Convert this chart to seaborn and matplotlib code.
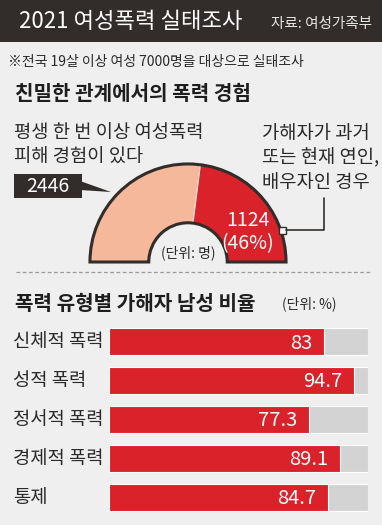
import matplotlib
matplotlib.use("Agg")
import matplotlib.pyplot as plt
import matplotlib.transforms as mtransforms
from matplotlib.patches import Rectangle, Polygon
import seaborn as sns
import pandas as pd

# data
total_victims = 2446
partner_victims = 1124
partner_share = "46%"
types = ["신체적 폭력", "성적 폭력", "정서적 폭력", "경제적 폭력", "통제"]
male_ratio = [83, 94.7, 77.3, 89.1, 84.7]

sns.set_theme(style="white")
plt.rcParams["font.family"] = ["Noto Sans CJK KR", "DejaVu Sans"]

W, H = 382, 525
bg = "#efefef"
dark = "#322d2b"
red = "#d9222a"
peach = "#f5b89a"
grey = "#d3d3d3"
txt = "#2a2a2a"

fig = plt.figure(figsize=(W / 100, H / 100), dpi=100)
fig.patch.set_facecolor(bg)

def fx(px):
    return px / W

def fy(py):
    return 1 - py / H

# half donut
axp = fig.add_axes([fx(88), fy(362), fx(200), 200 / H])
axp.set_facecolor("none")
sizes = [total_victims - partner_victims, partner_victims, total_victims]
wedges, _ = axp.pie(sizes, colors=[peach, red, "none"], startangle=180, counterclock=False,
                    wedgeprops=dict(width=0.6, edgecolor="#f3e6de", linewidth=0.8))
wedges[2].set_edgecolor("none")
outline, _ = axp.pie([total_victims, total_victims], colors=["none", "none"], startangle=180,
                     counterclock=False, wedgeprops=dict(width=0.6, edgecolor=dark, linewidth=2.2))
outline[1].set_edgecolor("none")
axp.set_xlim(-1.02, 1.02)
axp.set_ylim(-1.02, 1.02)
axp.axis("off")

# bars
axb = fig.add_axes([fx(109), fy(516.5), fx(259), 194 / H])
axb.set_facecolor("none")
df = pd.DataFrame({"type": types, "ratio": male_ratio, "full": [100] * len(types)})
sns.barplot(data=df, x="full", y="type", color=grey, width=0.7, saturation=1,
            edgecolor="white", linewidth=0.8, ax=axb)
sns.barplot(data=df, x="ratio", y="type", color=red, width=0.7, saturation=1,
            edgecolor="white", linewidth=0.8, ax=axb)
axb.set_xlim(0, 100)
axb.set_ylim(4.5, -0.5)
axb.axis("off")
lab_tr = mtransforms.blended_transform_factory(fig.transFigure, axb.transData)
for i, (t, v) in enumerate(zip(types, male_ratio)):
    axb.text(v - 4.6, i + 0.03, f"{v:g}", ha="right", va="center", color="white", fontsize=14.5)
    axb.text(fx(13), i, t, transform=lab_tr, ha="left", va="center", color=txt, fontsize=13.5)

# overlay for header and annotations
ax = fig.add_axes([0, 0, 1, 1])
ax.set_zorder(10)
ax.set_facecolor("none")
ax.set_xlim(0, W)
ax.set_ylim(H, 0)
ax.axis("off")

ax.add_patch(Rectangle((0, 0), W, 42, color=dark, lw=0))
ax.text(19, 22, "2021 여성폭력 실태조사", color="white", fontsize=16, fontweight="medium",
        ha="left", va="center")
ax.text(372, 24, "자료: 여성가족부", color="#e6e6e6", fontsize=10.5, ha="right", va="center")
ax.text(8, 62, "※전국 19살 이상 여성 7000명을 대상으로 실태조사", color=txt, fontsize=10,
        ha="left", va="center")
ax.text(15, 93, "친밀한 관계에서의 폭력 경험", color="#1e1e1e", fontsize=14.5, fontweight="bold",
        ha="left", va="center")

ax.text(14, 145, "평생 한 번 이상 여성폭력\n피해 경험이 있다", color=txt, fontsize=13.5,
        ha="left", va="center", linespacing=1.2)
ax.text(262, 158, "가해자가 과거\n또는 현재 연인,\n배우자인 경우", color=txt, fontsize=13.5,
        ha="left", va="center", linespacing=1.2)

ax.add_patch(Polygon([(80, 181), (80, 190), (111, 192)], closed=True, color=dark, lw=0))
ax.add_patch(Rectangle((14, 174), 68, 24, color=dark, lw=0))
ax.text(48, 186.5, f"{total_victims}", color="white", fontsize=14, ha="center", va="center")

ax.text(248, 232, f"{partner_victims}\n({partner_share})", color="white", fontsize=14,
        ha="center", va="center", linespacing=1.1)
ax.text(188, 253, "(단위: 명)", color=txt, fontsize=10, ha="center", va="center")

ax.plot([286, 324, 324], [230, 230, 198], color=dark, lw=1.2)
ax.add_patch(Rectangle((278.5, 226.5), 7, 7, facecolor="white", edgecolor=dark, lw=1))

ax.plot([16, 370], [272, 272], color="#9a9a9a", lw=0.9, ls=(0, (3, 2)))
ax.text(15, 303, "폭력 유형별 가해자 남성 비율", color="#1e1e1e", fontsize=14.5,
        fontweight="bold", ha="left", va="center")
ax.text(282, 304, "(단위: %)", color=txt, fontsize=10, ha="left", va="center")

fig.savefig("out.png", dpi=100, facecolor=bg)
